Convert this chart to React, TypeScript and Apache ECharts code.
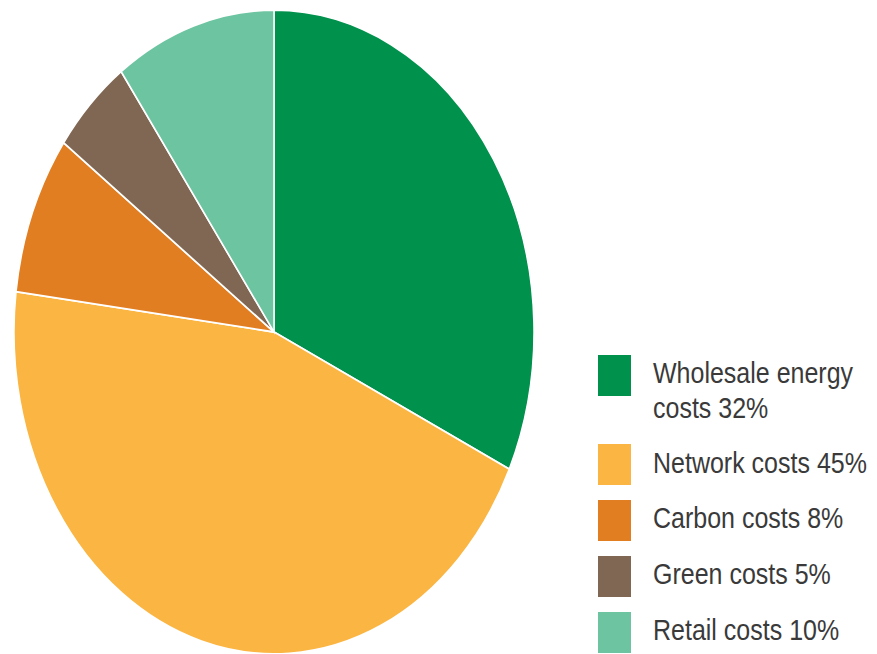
import React, { useEffect, useRef } from "react";
import * as echarts from "echarts";

const categories = [
  "Wholesale energy costs",
  "Network costs",
  "Carbon costs",
  "Green costs",
  "Retail costs",
];
const values = [32, 45, 8, 5, 10];
const colors = ["#00914D", "#FBB542", "#E27E22", "#806753", "#6DC4A1"];

export default function App() {
  const ref = useRef<HTMLDivElement>(null);

  useEffect(() => {
    if (!ref.current) return;
    const chart = echarts.init(ref.current, undefined, { renderer: "svg" });

    const total = values.reduce((a, b) => a + b, 0);
    const cx = 274;
    const cy = 332;
    const R = 260;
    const sy = 1.238;

    const legendX = 598;
    const sqW = 33;
    const sqH = 41;
    const sqTops = [355, 444, 500, 556, 612];
    const textCenters = [390, 462.5, 518, 574, 630];

    const graphics: any[] = [];
    categories.forEach((name, i) => {
      graphics.push({
        type: "rect",
        shape: { x: legendX, y: sqTops[i], width: sqW, height: sqH },
        style: { fill: colors[i] },
      });
      graphics.push({
        type: "text",
        x: 653,
        y: textCenters[i],
        scaleY: 1.2,
        style: {
          text: `${name} ${values[i]}%`,
          width: 225,
          overflow: "break",
          lineHeight: 29,
          fontSize: 25,
          fontFamily: "'Liberation Sans', Arial, sans-serif",
          fill: "#3a3a3a",
          verticalAlign: "middle",
          align: "left",
        },
      });
    });

    chart.setOption({
      animation: false,
      backgroundColor: "#ffffff",
      series: [
        {
          type: "custom",
          coordinateSystem: "none",
          data: values.map((v, i) => ({ value: v, name: categories[i] })),
          renderItem: (params: any, api: any) => {
            const idx = params.dataIndex;
            let cum = 0;
            for (let k = 0; k < idx; k++) cum += values[k];
            const v = api.value(0);
            const start = -Math.PI / 2 + (cum / total) * Math.PI * 2;
            const end = start + (v / total) * Math.PI * 2;
            return {
              type: "group",
              x: cx,
              y: cy,
              scaleY: sy,
              children: [
                {
                  type: "sector",
                  shape: { cx: 0, cy: 0, r0: 0, r: R, startAngle: start, endAngle: end, clockwise: true },
                  style: { fill: colors[idx], stroke: "#ffffff", lineWidth: 1.5, strokeNoScale: true },
                },
              ],
            };
          },
        },
      ],
      graphic: graphics,
    });

    return () => chart.dispose();
  }, []);

  return (
    <div
      ref={ref}
      style={{ position: "fixed", left: 0, top: 0, width: 877, height: 654 }}
    />
  );
}
